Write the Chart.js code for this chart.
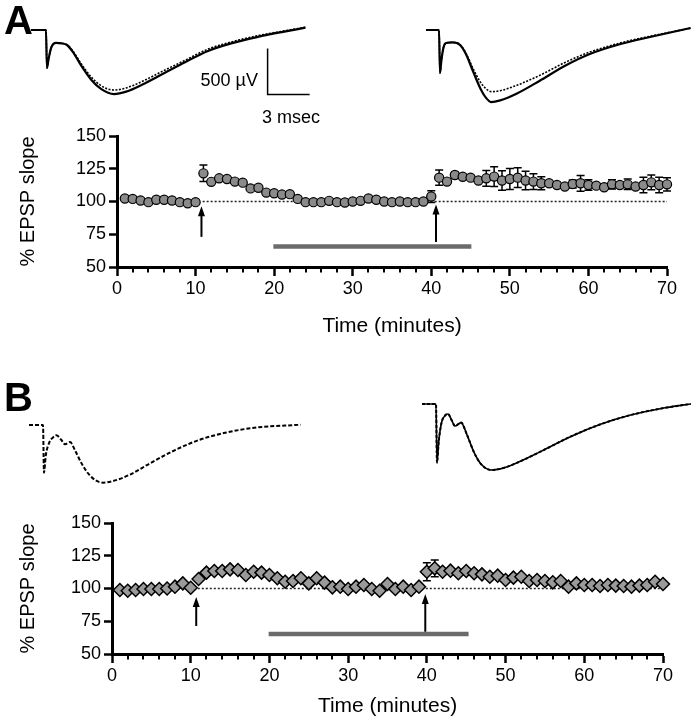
<!DOCTYPE html>
<html>
<head>
<meta charset="utf-8">
<script src="https://cdn.jsdelivr.net/npm/chart.js@4"></script>
<style>
  body { margin: 0; background: #fff; }
  #wrap { position: relative; width: 697px; height: 720px; overflow: hidden; font-family: "Liberation Sans", Arial, Helvetica, sans-serif; }
  canvas { position: absolute; }
  .lbl { position: absolute; color: #000; white-space: nowrap; }
  .panel { font-size: 40px; font-weight: bold; line-height: 40px; }
  .note { font-size: 18px; line-height: 20px; }
</style>
</head>
<body>
<div id="wrap">
  <canvas id="trA1"></canvas>
  <canvas id="trA2"></canvas>
  <canvas id="trB1"></canvas>
  <canvas id="trB2"></canvas>
  <canvas id="mainA"></canvas>
  <canvas id="mainB"></canvas>
  <div class="lbl panel" style="left:4px;top:0px">A</div>
  <div class="lbl panel" style="left:4px;top:377px">B</div>
  <div class="lbl note" style="left:188px;top:70px;width:70px;text-align:right">500 µV</div>
  <div class="lbl note" style="left:262px;top:107px">3 msec</div>
</div>
<script>
// ──────────────── 数据 ────────────────
const minutes = [1,2,3,4,5,6,7,8,9,10,11,12,13,14,15,16,17,18,19,20,
  21,22,23,24,25,26,27,28,29,30,31,32,33,34,35,36,37,38,39,40,
  41,42,43,44,45,46,47,48,49,50,51,52,53,54,55,56,57,58,59,60,
  61,62,63,64,65,66,67,68,69,70];

const slopeA = [102.3,102,100.8,99.5,101.3,101.3,100.8,99.5,98.7,99.5,
  121.5,115,117.7,117.2,115.2,114.4,110,110.5,106.8,106.3,
  105.3,105.6,102,99.5,99.5,99.5,100.5,99.5,99.2,100,
  100.5,102.3,101.3,100,99.5,100,99.5,99.5,100,103.8,
  118.2,115.2,120.2,118.9,118.2,116,117.7,119,116,117.2,
  118.2,116,115.2,113.9,113.9,112.6,111.4,113.4,113.9,112.6,
  112.1,110.9,113.1,112.6,113.1,111.4,112.6,114.6,112.6,113.1];
const semA = [1,1,1,1,1,1,1,1,1,1,
  6.3,1,1,1,1,1,1,1,1,1,
  1,1,1,1,1,1,1,1,1,1,
  1,1,1,1,1,1,1,1,1,4.5,
  5.8,1,2,1,1,1,6,7.5,7.5,8,
  7.5,7,6,5,1,1,1,3,6,4,
  1,1,3.5,1,4,1,6,5.6,6,5];

const slopeB = [98.9,98.3,98.9,99.6,99.6,99.6,100,101.4,103.9,100.6,
  107.3,112.1,113.4,113.4,114.6,114.1,110.3,112.8,112.1,110.3,
  107.8,105.2,105.7,107.8,103.9,107.8,104.5,100.9,101.4,99.6,
  101.4,102.7,99.6,98.3,103.4,99.6,101.4,98.9,101.4,112.8,
  115.4,112.8,113.6,111.6,113.4,111.6,110.8,109,109.8,106.5,
  108.3,109,105.7,106.5,105.7,104.7,105.7,101.4,103.9,102.7,
  102.7,101.9,102.7,102.2,101.9,101.4,102.2,102.7,105.2,103.4];
const semB = [1,1,1,1,1,1,1,1,1,1,
  1,1,1,1,1,1,1,1,1,1,
  1,1,1,1,1,1,1,1,1,1,
  1,1,1,1,1,1,1,1,1,6.9,
  6.4,1,1,1,1,1,1,1,1,1,
  1,1,1,1,1,1,1,1,1,1,
  1,1,1,1,1,1,1,1,1,1];

// 100% 虚线, 箭头 (刺激), 灰条 (给药)
const baseSpan = [10.9, 70];
const arrowXA = [10.75, 40.6], arrowTipA = [96.4, 97.7], arrowTailA = [73, 69];
const arrowXB = [10.7, 39.8],  arrowTipB = [93.5, 95.8], arrowTailB = [71.4, 67];
const drugA = [19.9, 45.1], drugLevelA = 65.6;
const drugB = [19.9, 45.3], drugLevelB = 65.3;

// 记录波形 (ms, µV)
const trA1_t    = [0,1.07,1.14,1.25,1.45,1.79,2.2,2.57,3.0,3.6,4.3,5.0,5.93,6.8,8.0,9.5,11.0,12.6,14.3,16.2,18.0,19.6];
const trA1_pre  = [0,0,-413,-320,-190,-141,-145,-163,-240,-390,-540,-640,-696,-670,-590,-470,-350,-230,-145,-75,-20,25];
const trA1_post = [0,0,-413,-320,-190,-141,-145,-160,-230,-370,-510,-605,-652,-630,-555,-440,-330,-210,-130,-62,-12,30];
const trA2_t    = [0,0.93,1.0,1.1,1.25,1.43,1.9,2.43,2.85,3.35,3.9,4.3,4.64,5.3,6.5,8.1,9.9,11.7,13.9,16,18.9];
const trA2_pre  = [0,0,-468,-330,-190,-141,-135,-163,-261,-446,-640,-740,-783,-765,-690,-554,-391,-261,-152,-76,22];
const trA2_post = [0,0,-468,-330,-190,-141,-135,-160,-250,-415,-570,-640,-670,-660,-600,-495,-355,-240,-140,-68,20];
const trB1_t    = [0,1.0,1.07,1.2,1.45,1.75,1.95,2.3,2.57,2.93,3.3,3.8,4.3,4.8,5.3,6.0,7.2,8.6,10.4,12.2,14.0,16.1,19.4];
const trB1_v    = [0,0,-518,-330,-190,-130,-112,-160,-210,-185,-280,-430,-540,-605,-627,-610,-540,-420,-275,-160,-85,-30,3];
const trB2_t    = [0,1.0,1.07,1.2,1.4,1.65,1.86,2.1,2.36,2.79,3.2,3.7,4.2,4.93,5.6,6.7,8.5,10.6,12.8,14.9,17.1,19.2];
const trB2_v    = [0,0,-637,-400,-200,-125,-109,-170,-239,-202,-330,-520,-650,-717,-705,-645,-515,-355,-218,-120,-48,0];
const scaleBarT = [16.9, 16.9, 19.9];
const scaleBarV = [-200, -700, -700];

const xTicksMinor = [];
for (let v = 2; v < 70; v += 2) if (v % 10) xTicksMinor.push(v);

// ──────────────── 通用 ────────────────
Chart.defaults.font.family = '"Liberation Sans", Arial, Helvetica, sans-serif';
Chart.defaults.color = '#000';
const xy = (xs, ys) => xs.map((x, i) => ({ x, y: ys[i] }));
const PX_PER_MS = 14, PX_PER_UV = 0.092;

function place(cv, l, t, w, h) {
  cv.style.left = l + 'px'; cv.style.top = t + 'px';
  cv.width = w; cv.height = h;
}

// ──────────────── 波形 ────────────────
function traceChart(id, box, origin, sets) {
  const cv = document.getElementById(id);
  place(cv, box[0], box[1], box[2], box[3]);
  new Chart(cv, {
    type: 'line',
    data: {
      datasets: sets.map(s => ({
        data: xy(s.t, s.v), borderColor: '#000', borderWidth: s.w, borderDash: s.dash || [],
        pointRadius: 0, cubicInterpolationMode: s.mono === false ? 'default' : 'monotone', tension: 0, fill: false
      }))
    },
    options: {
      responsive: false, animation: false, devicePixelRatio: 1, events: [],
      layout: { padding: 0 },
      plugins: { legend: { display: false }, tooltip: { enabled: false } },
      scales: {
        x: { type: 'linear', display: false,
             min: (box[0] - origin[0]) / PX_PER_MS, max: (box[0] + box[2] - origin[0]) / PX_PER_MS },
        y: { type: 'linear', display: false,
             min: (origin[1] - box[1] - box[3]) / PX_PER_UV, max: (origin[1] - box[1]) / PX_PER_UV }
      }
    }
  });
}

traceChart('trA1', [22, 12, 320, 100], [31, 30], [
  { t: trA1_t, v: trA1_post, w: 1.6, dash: [2, 1.5] },
  { t: trA1_t, v: trA1_pre, w: 2.2 },
  { t: scaleBarT, v: scaleBarV, w: 1.5, mono: false }
]);
traceChart('trA2', [420, 12, 277, 100], [426, 30], [
  { t: trA2_t, v: trA2_post, w: 1.6, dash: [2, 1.5] },
  { t: trA2_t, v: trA2_pre, w: 2.2 }
]);
traceChart('trB1', [22, 395, 320, 105], [29, 425], [
  { t: trB1_t, v: trB1_v, w: 2, dash: [4, 2] }
]);
traceChart('trB2', [415, 388, 282, 105], [422, 404], [
  { t: trB2_t, v: trB2_v, w: 1.6 },
  { t: trB2_t, v: trB2_v, w: 2, dash: [3, 2] }
]);

// ──────────────── EPSP 斜率图 ────────────────
function slopeChart(id, box, o) {
  const cv = document.getElementById(id);
  place(cv, box[0], box[1], box[2], box[3]);

  const extras = {
    id: 'extras',
    beforeDatasetsDraw(c) {
      const { ctx, scales: { x, y } } = c;
      ctx.save();
      ctx.strokeStyle = '#000'; ctx.lineWidth = 1.5;
      minutes.forEach((m, i) => {
        const px = x.getPixelForValue(m);
        const y1 = y.getPixelForValue(o.vals[i] + o.sem[i]);
        const y2 = y.getPixelForValue(o.vals[i] - o.sem[i]);
        ctx.beginPath();
        ctx.moveTo(px, y1); ctx.lineTo(px, y2);
        ctx.moveTo(px - 4, y1); ctx.lineTo(px + 4, y1);
        ctx.moveTo(px - 4, y2); ctx.lineTo(px + 4, y2);
        ctx.stroke();
      });
      ctx.restore();
    },
    afterDatasetsDraw(c) {
      const { ctx, scales: { x, y } } = c;
      ctx.save();
      ctx.strokeStyle = '#000'; ctx.fillStyle = '#000'; ctx.lineWidth = 2;
      o.arrowX.forEach((ax, i) => {
        const px = x.getPixelForValue(ax);
        const tip = y.getPixelForValue(o.arrowTip[i]);
        const tail = y.getPixelForValue(o.arrowTail[i]);
        ctx.beginPath(); ctx.moveTo(px, tail); ctx.lineTo(px, tip + 8); ctx.stroke();
        ctx.beginPath(); ctx.moveTo(px, tip); ctx.lineTo(px - 3.5, tip + 10); ctx.lineTo(px + 3.5, tip + 10); ctx.closePath(); ctx.fill();
      });
      ctx.restore();
    },
    afterDraw(c) {
      const { ctx, chartArea, scales: { x } } = c;
      ctx.save();
      ctx.strokeStyle = '#000'; ctx.lineWidth = 2;
      xTicksMinor.forEach(v => {
        const px = Math.round(x.getPixelForValue(v));
        ctx.beginPath(); ctx.moveTo(px, chartArea.bottom); ctx.lineTo(px, chartArea.bottom + 5.5); ctx.stroke();
      });
      ctx.restore();
    }
  };

  new Chart(cv, {
    type: 'line',
    data: {
      datasets: [
        { data: xy(minutes, o.vals), showLine: false, pointStyle: o.marker, pointRadius: o.radius,
          pointBackgroundColor: o.fill, pointBorderColor: '#000', pointBorderWidth: o.bw, order: 0, clip: false },
        { data: xy(baseSpan, [100, 100]), borderColor: '#222', borderWidth: 1.3, borderDash: [2, 2],
          pointRadius: 0, order: 2 },
        { data: xy(o.drug, [o.drugLevel, o.drugLevel]), borderColor: '#6b6b6b', borderWidth: 4.5,
          borderCapStyle: 'butt', pointRadius: 0, order: 3 }
      ]
    },
    options: {
      responsive: false, animation: false, devicePixelRatio: 1, events: [],
      layout: { padding: { left: 0, right: o.padRight, top: o.padTop, bottom: 0 } },
      plugins: { legend: { display: false }, tooltip: { enabled: false } },
      scales: {
        x: {
          type: 'linear', min: 0, max: 70,
          afterFit: s => { s.height = o.xHeight; },
          ticks: { stepSize: 10, padding: 2, font: { size: 18 }, color: '#000', maxRotation: 0 },
          grid: { drawOnChartArea: false, drawTicks: true, tickLength: 9, tickWidth: 2.5, tickColor: '#000' },
          border: { display: true, width: 3, color: '#000' },
          title: { display: true, text: 'Time (minutes)', font: { size: 21 }, color: '#000', padding: { top: 0, bottom: 1 } }
        },
        y: {
          type: 'linear', min: 50, max: 150,
          afterFit: s => { s.width = o.yWidth; },
          ticks: { stepSize: 25, padding: 3, font: { size: 18 }, color: '#000' },
          grid: { drawOnChartArea: false, drawTicks: true, tickLength: 8, tickWidth: 2.5, tickColor: '#000' },
          border: { display: true, width: 3, color: '#000' },
          title: { display: true, text: '% EPSP slope', font: { size: 20 }, color: '#000', padding: { top: 16, bottom: 0 } }
        }
      }
    },
    plugins: [extras]
  });
}

slopeChart('mainA', [0, 120, 697, 220], {
  vals: slopeA, sem: semA, marker: 'circle', radius: 4.6, fill: '#8a8a8a', bw: 1.2,
  arrowX: arrowXA, arrowTip: arrowTipA, arrowTail: arrowTailA,
  drug: drugA, drugLevel: drugLevelA,
  padRight: 30, padTop: 16, xHeight: 73, yWidth: 117
});
slopeChart('mainB', [0, 505, 697, 215], {
  vals: slopeB, sem: semB, marker: 'rectRot', radius: 6.5, fill: '#9a9a9a', bw: 1.5,
  arrowX: arrowXB, arrowTip: arrowTipB, arrowTail: arrowTailB,
  drug: drugB, drugLevel: drugLevelB,
  padRight: 34, padTop: 18, xHeight: 66, yWidth: 112
});
</script>
</body>
</html>
